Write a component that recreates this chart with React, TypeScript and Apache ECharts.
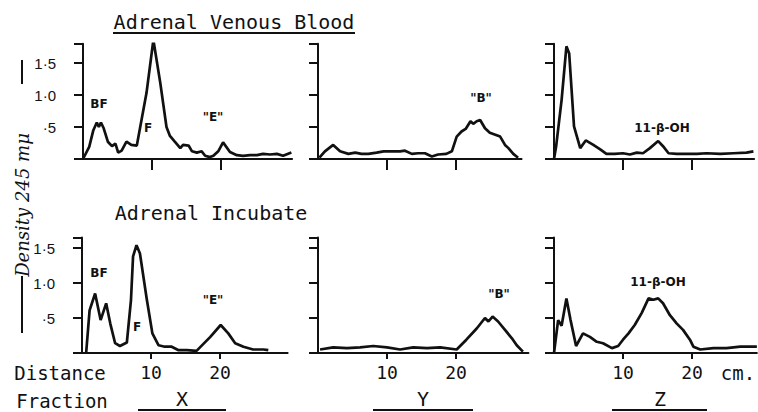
import React, { useEffect, useRef } from "react";
import * as echarts from "echarts";

// Distance (cm) / density pairs
const venousX = [[0,0],[0.9,0.19],[1.5,0.45],[2.0,0.57],[2.3,0.5],[2.6,0.57],[3.0,0.48],[3.6,0.27],[4.2,0.2],[4.7,0.24],[5.1,0.1],[5.6,0.13],[6.3,0.27],[7.0,0.22],[7.8,0.21],[9.2,1.03],[10.2,1.86],[11.2,1.19],[12.1,0.5],[12.6,0.36],[13.3,0.27],[14.1,0.17],[14.5,0.22],[15.3,0.21],[15.8,0.12],[16.5,0.1],[17.2,0.12],[17.7,0.05],[18.4,0.03],[18.9,0.05],[19.6,0.12],[20.3,0.26],[21.3,0.11],[22.3,0.06],[23.2,0.05],[24.2,0.06],[25.2,0.06],[26.1,0.08],[27.1,0.07],[28.1,0.08],[29.0,0.05],[30.2,0.1]];
const venousY = [[0.2,0.02],[1.0,0.12],[2.2,0.22],[3.2,0.12],[4.4,0.08],[5.4,0.1],[6.3,0.08],[7.3,0.08],[8.5,0.1],[9.5,0.12],[10.7,0.12],[11.9,0.12],[12.6,0.13],[13.6,0.08],[14.5,0.09],[15.5,0.09],[16.5,0.04],[17.4,0.07],[18.6,0.08],[19.4,0.12],[20.1,0.35],[20.8,0.43],[21.4,0.47],[22.1,0.59],[22.5,0.55],[23.0,0.59],[23.5,0.61],[24.2,0.48],[24.9,0.41],[25.7,0.38],[26.4,0.35],[27.1,0.22],[27.6,0.17],[28.3,0.08],[29.0,0.02]];
const venousZ = [[0,0],[0.3,0.19],[1.1,0.92],[1.8,1.76],[2.2,1.65],[2.9,0.51],[3.8,0.17],[4.6,0.29],[5.7,0.22],[6.7,0.15],[7.6,0.08],[8.8,0.08],[10.0,0.09],[11.0,0.07],[12.0,0.1],[12.9,0.09],[13.9,0.17],[15.1,0.28],[15.8,0.2],[16.6,0.09],[17.8,0.08],[19.2,0.08],[20.7,0.08],[22.1,0.09],[24.1,0.08],[26.0,0.09],[27.9,0.1],[28.9,0.12]];
const incubX = [[0.6,0],[1.1,0.61],[1.9,0.85],[2.7,0.47],[3.5,0.71],[4.1,0.42],[4.8,0.14],[5.5,0.1],[6.5,0.15],[7.1,0.76],[7.4,1.38],[7.9,1.54],[8.4,1.42],[9.4,0.76],[10.2,0.28],[11.1,0.11],[12.0,0.09],[13.0,0.09],[14.0,0.04],[15.2,0.04],[16.6,0.03],[18.6,0.23],[20.1,0.4],[21.2,0.28],[22.2,0.14],[23.4,0.09],[24.8,0.05],[26.3,0.05],[27.0,0.04]];
const incubY = [[0.3,0.05],[2.2,0.08],[4.2,0.07],[6.1,0.08],[8.0,0.1],[10.0,0.08],[11.9,0.05],[13.8,0.08],[15.8,0.07],[17.7,0.08],[20.1,0.05],[21.5,0.19],[23.0,0.35],[24.2,0.5],[24.7,0.45],[25.3,0.52],[26.1,0.45],[27.1,0.33],[28.1,0.21],[28.8,0.11],[29.7,0.02]];
const incubZ = [[0,0],[0.6,0.47],[1.1,0.39],[1.8,0.78],[2.4,0.47],[3.2,0.1],[4.2,0.28],[5.2,0.23],[6.2,0.16],[7.1,0.14],[8.4,0.07],[9.3,0.1],[10.0,0.19],[10.8,0.28],[11.7,0.4],[12.7,0.57],[13.7,0.78],[14.4,0.76],[15.1,0.78],[15.8,0.71],[16.8,0.54],[17.8,0.42],[18.7,0.33],[19.7,0.19],[20.2,0.09],[21.2,0.05],[23.1,0.07],[25.0,0.07],[27.0,0.09],[29.4,0.09]];

const distanceTicks = [10, 20];
const densityTickLabels: Record<string, string> = { "0.5": "·5", "1": "1·0", "1.5": "1·5" };

const INK = "#111";
const MONO = "DejaVu Sans Mono";

export default function App() {
  const ref = useRef<HTMLDivElement>(null);
  useEffect(() => {
    if (!ref.current) return;
    const chart = echarts.init(ref.current, null, { renderer: "svg" });

    const panels = [
      { data: venousX, left: 83, top: 43.8, h: 115.2, max: 30.3, ymax: 1.8, labels: true, xlab: false, tick: 11 },
      { data: venousY, left: 318, top: 43.8, h: 115.2, max: 29.5, ymax: 1.8, labels: false, xlab: false, tick: 11 },
      { data: venousZ, left: 554, top: 43.8, h: 115.2, max: 29, ymax: 1.8, labels: false, xlab: false, tick: 11 },
      { data: incubX, left: 82, top: 237.5, h: 115.5, max: 29.8, ymax: 1.65, labels: true, xlab: true, tick: 6 },
      { data: incubY, left: 318, top: 237.5, h: 115.5, max: 30.5, ymax: 1.65, labels: false, xlab: true, tick: 6 },
      { data: incubZ, left: 554, top: 237.5, h: 115.5, max: 29.4, ymax: 1.65, labels: false, xlab: true, tick: 6 },
    ];

    const grid = panels.map((p) => ({ left: p.left, top: p.top, width: p.max * 6.9, height: p.h, containLabel: false }));
    const xAxis = panels.map((p, i) => ({
      type: "value", gridIndex: i, min: 0, max: p.max,
      splitLine: { show: false },
      axisLine: { lineStyle: { color: INK, width: 2 } },
      axisTick: { show: true, customValues: distanceTicks, length: p.tick, lineStyle: { color: INK, width: 2 } },
      axisLabel: { show: p.xlab, customValues: distanceTicks, color: INK, fontFamily: MONO, fontSize: 18, margin: 10 },
    }));
    const yAxis = panels.map((p, i) => ({
      type: "value", gridIndex: i, min: 0, max: p.ymax, interval: 0.5,
      splitLine: { show: false },
      axisLine: { show: true, lineStyle: { color: INK, width: 2 } },
      axisTick: { show: true, length: 9, lineStyle: { color: INK, width: 2 } },
      axisLabel: {
        show: p.labels, color: INK, fontFamily: "Liberation Sans", fontSize: 15, margin: 27,
        formatter: (v: number) => densityTickLabels[String(v)] ?? "",
      },
    }));
    const series = panels.map((p, i) => ({
      type: "line", xAxisIndex: i, yAxisIndex: i, data: p.data,
      showSymbol: false, symbol: "none", smooth: false,
      lineStyle: { color: INK, width: 2.7 },
    }));

    const txt = (text: string, x: number, y: number, font: string, extra: any = {}) => ({
      type: "text", x, y, silent: true, ...extra,
      style: { text, fill: INK, font, align: "center", verticalAlign: "middle", textAlign: "center", textVerticalAlign: "middle" },
    });
    const ln = (x1: number, y1: number, x2: number, y2: number, w = 2) => ({
      type: "line", silent: true, shape: { x1, y1, x2, y2 }, style: { stroke: INK, lineWidth: w },
    });
    const ann = "bold 12px 'DejaVu Sans'";

    const graphic = [
      txt("Adrenal Venous Blood", 234, 22, `20px '${MONO}'`),
      ln(113, 33, 355, 33),
      txt("Adrenal Incubate", 211, 213, `20px '${MONO}'`),
      txt("Density 245 mμ", 22, 205, "italic 18px 'DejaVu Serif'", { rotation: Math.PI / 2 }),
      ln(22, 60, 22, 84),
      ln(22, 276, 22, 333),
      txt("BF", 99, 104, ann),
      txt("F", 148, 128, ann),
      txt('"E"', 213, 117, ann),
      txt('"B"', 481, 98, ann),
      txt("11-β-OH", 662, 128, ann),
      txt("BF", 99, 273, ann),
      txt("F", 137, 327, ann),
      txt('"E"', 213, 300, ann),
      txt('"B"', 499, 294, ann),
      txt("11-β-OH", 658, 282, ann),
      txt("Distance", 60, 373, `19px '${MONO}'`),
      txt("Fraction", 62, 401, `19px '${MONO}'`),
      txt("cm.", 738, 373, `19px '${MONO}'`),
      txt("X", 182, 399, `20px '${MONO}'`),
      ln(138, 410, 226, 410),
      txt("Y", 423, 399, `20px '${MONO}'`),
      ln(373, 410, 473, 410),
      txt("Z", 660, 399, `20px '${MONO}'`),
      ln(612, 410, 707, 410),
    ];

    chart.setOption({
      animation: false,
      backgroundColor: "#fff",
      grid, xAxis, yAxis, series, graphic,
    });
    return () => chart.dispose();
  }, []);
  return <div ref={ref} style={{ position: "fixed", left: 0, top: 0, width: 758, height: 412 }} />;
}
